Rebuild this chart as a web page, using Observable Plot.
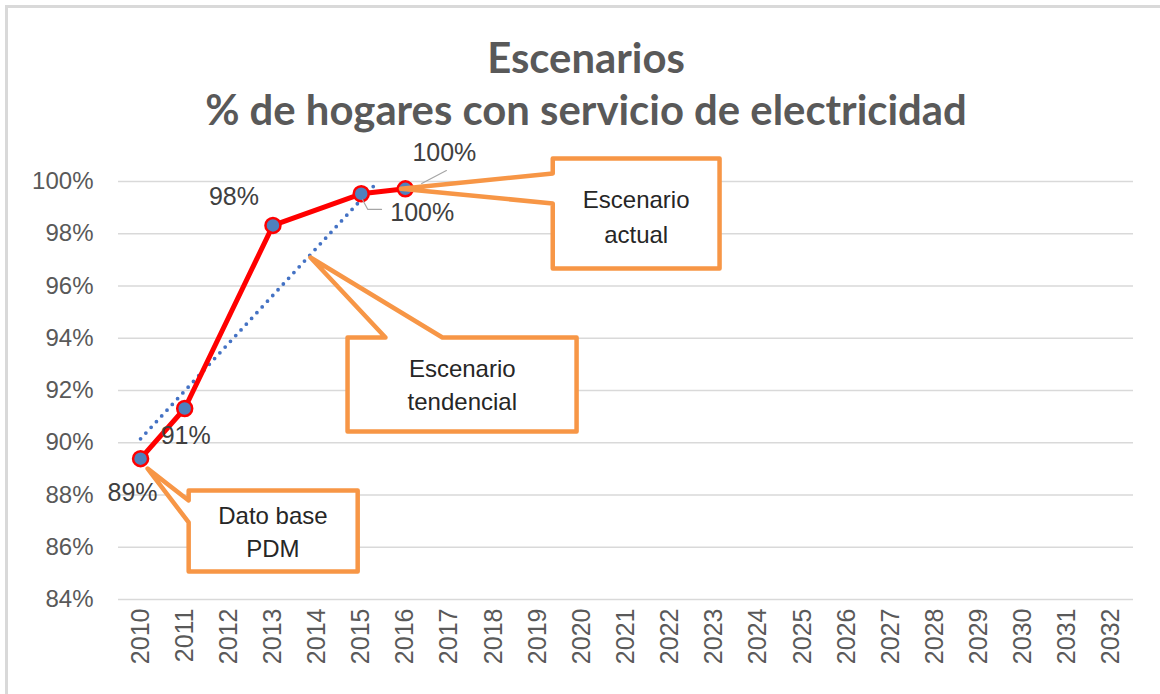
<!DOCTYPE html>
<html><head><meta charset="utf-8">
<script src="https://cdn.jsdelivr.net/npm/d3@7"></script>
<script src="https://cdn.jsdelivr.net/npm/@observablehq/plot@0.6"></script>
<style>
html,body{margin:0;padding:0;background:#fff;}
#wrap{position:relative;width:1160px;height:694px;overflow:hidden;background:#fff;}
#frame{position:absolute;left:5px;top:5px;width:1200px;height:720px;border-left:3px solid #d9d9d9;border-top:3px solid #d9d9d9;}
#title{position:absolute;left:0;top:0;width:1172px;text-align:center;font-family:Lato,'Open Sans',sans-serif;font-weight:bold;color:#595959;}
#title div{white-space:nowrap;}
#chart{position:absolute;left:0;top:140px;}
</style></head><body>
<div id="wrap">
  <div id="frame"></div>
  <div id="title"><div id="t1"></div><div id="t2"></div></div>
  <div id="chart"></div>
</div>
<script>
// ---- data ----
const titleLine1 = "Escenarios";
const titleLine2 = "% de hogares con servicio de electricidad";
const yearTicks = [2010,2011,2012,2013,2014,2015,2016,2017,2018,2019,2020,2021,2022,2023,2024,2025,2026,2027,2028,2029,2030,2031,2032];
const yTicks = [84,86,88,90,92,94,96,98,100];
const actualYears = [2010, 2011, 2013, 2015, 2016];
const actualValues = [89.39, 91.31, 98.32, 99.53, 99.72];
const actualLabels = ["89%", "91%", "98%", "100%", "100%"];
const trendYears = [2010, 2015.35];
const trendValues = [90.15, 99.95];
const calloutTexts = ["Escenario\nactual", "Escenario\ntendencial", "Dato base\nPDM"];

// ---- annotation geometry (data units: year, percent) ----
const calloutShapes = [
  [[2019.34,100.88],[2023.12,100.88],[2023.12,96.67],[2019.34,96.67],[2019.34,99.16],[2015.9,99.72],[2019.34,100.31],[2019.34,100.88]],
  [[2014.69,94.03],[2015.55,94.03],[2013.85,97.09],[2016.84,94.03],[2019.88,94.03],[2019.88,90.43],[2014.69,90.43],[2014.69,94.03]],
  [[2011.09,88.17],[2014.92,88.17],[2014.92,85.07],[2011.09,85.07],[2011.09,86.95],[2010.16,89.01],[2011.09,87.79],[2011.09,88.17]]
];
const calloutCenters = [[2021.23, 98.73], [2017.29, 92.28], [2013.0, 86.65]];
const calloutLineHeights = [1.45, 1.375, 1.375];
const leaderLines = [
  [[2015.03,99.3],[2015.15,98.93],[2015.46,98.93]],
  [[2016.37,99.92],[2016.93,100.42]]
];
const labelOffsets = [[-8,34],[1,27],[-39,-28],[61,19],[39,-36]];

// ---- title ----
const ctx = document.createElement("canvas").getContext("2d");
ctx.font = "bold 40px Lato";
const tw = ctx.measureText(titleLine2).width || 800;
const F = Math.max(28, Math.min(46, 40 * 762 / tw));
const L = 52;
const t1 = document.getElementById("t1"), t2 = document.getElementById("t2");
t1.textContent = titleLine1; t2.textContent = titleLine2;
const titleDiv = document.getElementById("title");
titleDiv.style.fontSize = F + "px";
titleDiv.style.lineHeight = L + "px";
titleDiv.style.top = (73 - ((L - 1.2 * F) / 2 + 0.987 * F)) + "px";

// ---- tables ----
const actual = actualYears.map((x, i) => ({x, y: actualValues[i], label: actualLabels[i]}));
const trend = trendYears.map((x, i) => ({x, y: trendValues[i]}));
const shapes = calloutShapes.flatMap((pts, id) => pts.map(([x, y]) => ({id, x, y})));
const centers = calloutCenters.map(([x, y], i) => ({x, y, text: calloutTexts[i]}));
const leaders = leaderLines.flatMap((pts, id) => pts.map(([x, y]) => ({id, x, y})));

const plot = Plot.plot({
  width: 1160, height: 554,
  marginTop: 41, marginBottom: 95, marginLeft: 118, marginRight: 27,
  style: {fontFamily: "'Liberation Sans', Arial, sans-serif", fontSize: "24px", color: "#595959", background: "transparent", overflow: "visible"},
  x: {type: "linear", domain: [2009.5, 2032.5]},
  y: {domain: [84, 100]},
  marks: [
    Plot.gridY(yTicks, {stroke: "#d9d9d9", strokeOpacity: 1, strokeWidth: 1.3}),
    Plot.axisY(yTicks, {tickSize: 0, tickPadding: 25, tickFormat: d => d + "%", fontSize: 24, label: null}),
    Plot.axisX(yearTicks, {tickSize: 0, tickPadding: 9, tickRotate: -90, tickFormat: d => String(d), fontSize: 25, label: null}),
    Plot.line(trend, {x: "x", y: "y", stroke: "#4472c4", strokeWidth: 3.8, strokeDasharray: "0 7.8", strokeLinecap: "round"}),
    Plot.line(actual, {x: "x", y: "y", stroke: "#ff0000", strokeWidth: 5}),
    Plot.dot(actual, {x: "x", y: "y", r: 7.5, fill: "#4f81bd", stroke: "#ff0000", strokeWidth: 2.5}),
    Plot.line(leaders, {x: "x", y: "y", z: "id", stroke: "#a6a6a6", strokeWidth: 1.2}),
    ...actual.map((d, i) => Plot.text([d], {x: "x", y: "y", text: "label", dx: labelOffsets[i][0], dy: labelOffsets[i][1], fontSize: 25, fill: "#404040"})),
    Plot.line(shapes, {x: "x", y: "y", z: "id", stroke: "#f79646", strokeWidth: 4.5, fill: "white", strokeLinejoin: "round"}),
    ...centers.map((d, i) => Plot.text([d], {x: "x", y: "y", text: "text", fontSize: 24, lineHeight: calloutLineHeights[i], fill: "#262626"}))
  ]
});
document.getElementById("chart").appendChild(plot);
</script>
</body></html>
